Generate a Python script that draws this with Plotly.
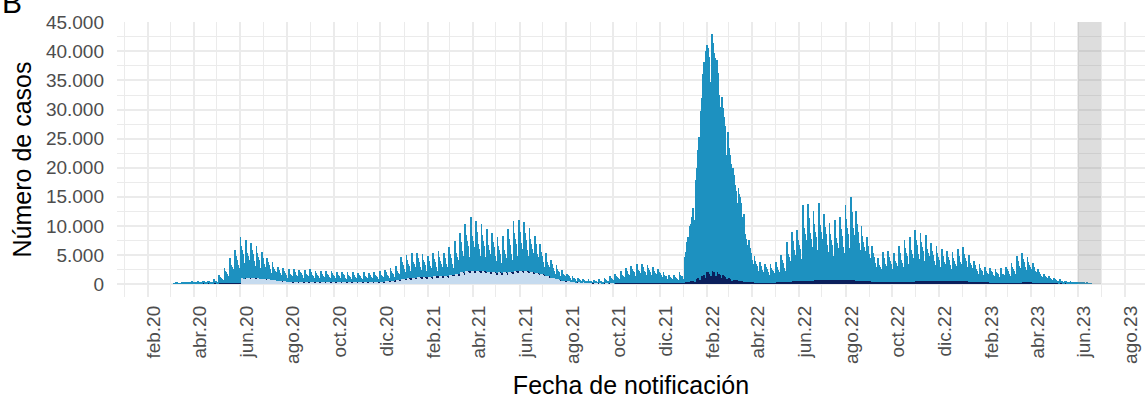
import pandas as pd
import plotly.graph_objects as go

# ---------------- DATOS (cientos de casos por día; cada fila = una semana, lunes a domingo) ----------------
inicio_serie = "2020-03-02"      # primer lunes de las series azul medio y azul marino
inicio_celeste = "2020-06-01"    # primer lunes de la serie celeste

azul_medio = [
    [0,0,0,0,1,0,0],[2,2,1,1,1,1,1],[2,1,1,1,1,0,0],[3,2,2,2,1,1,0],[4,3,3,2,2,1,1],
    [4,3,3,2,2,1,1],[5,4,3,3,2,2,1],[5,4,3,3,2,2,1],[7,6,5,4,3,3,2],[14,11,10,9,7,6,4],
    [27,22,19,17,15,12,9],[44,36,31,28,24,20,15],[57,47,41,36,31,26,20],[71,56,48,41,35,27,6],[65,51,43,37,31,23,5],
    [60,47,40,34,28,21,5],[55,43,37,31,26,19,4],[46,36,30,26,21,16,3],[37,29,24,20,17,12,3],[30,23,19,16,13,9,2],
    [24,18,15,13,10,7,1],[22,17,14,12,10,7,1],[22,17,14,12,10,7,2],[21,16,14,12,10,7,1],[20,17,14,12,10,7,2],
    [20,16,13,11,9,7,1],[21,16,13,11,10,7,1],[19,15,12,10,8,6,1],[19,15,13,10,8,6,1],[18,14,12,10,8,6,1],
    [18,15,12,10,8,6,1],[17,13,11,9,7,5,1],[17,14,11,9,7,5,1],[16,12,10,8,7,5,1],[16,12,11,8,7,5,1],
    [15,11,9,8,6,4,1],[16,12,10,8,7,5,1],[15,11,9,8,6,4,1],[16,12,10,8,7,5,1],[18,14,12,10,8,6,1],
    [19,15,12,10,8,6,1],[21,16,13,11,9,6,1],[24,18,15,12,10,7,1],[38,30,25,21,17,13,3],[40,31,25,21,17,12,2],
    [43,33,27,23,18,13,2],[42,32,26,22,17,12,2],[40,30,25,21,16,11,2],[37,28,23,19,15,9,1],[40,30,25,20,16,10,2],
    [42,32,26,21,16,11,2],[40,30,24,20,15,10,1],[47,35,29,24,18,12,2],[56,42,35,29,23,15,2],[68,52,43,36,28,19,3],
    [82,63,52,44,35,25,5],[93,72,60,51,41,29,6],[86,66,55,46,37,26,5],[81,62,52,43,35,24,5],[73,56,46,38,31,21,4],
    [68,52,43,36,28,19,3],[61,46,38,31,24,16,3],[62,47,38,32,25,17,3],[73,56,46,38,31,21,4],[86,66,55,46,38,27,5],
    [87,67,56,47,38,27,5],[84,65,54,45,36,26,5],[75,57,48,40,32,22,4],[64,49,40,33,27,18,3],[51,38,31,26,20,13,2],
    [39,29,24,19,15,9,1],[31,23,19,16,12,8,3],[24,18,15,12,9,6,3],[18,14,11,9,7,5,2],[13,10,8,6,5,3,1],
    [10,7,6,5,3,2,0],[8,6,5,4,3,2,0],[6,4,3,2,2,1,0],[6,4,3,3,2,1,0],[5,4,3,2,1,1,0],
    [7,5,4,4,3,2,1],[9,7,6,5,4,3,2],[12,9,8,7,6,4,3],[16,13,11,10,9,7,5],[21,17,15,13,11,9,7],
    [26,21,18,16,14,11,9],[30,24,21,19,16,13,10],[33,27,23,21,18,15,11],[34,28,24,21,19,15,12],[32,26,23,20,17,14,11],
    [29,24,21,18,16,13,10],[25,20,18,16,14,11,8],[19,15,13,12,10,8,6],[15,12,11,9,8,6,5],[14,11,10,9,7,6,4],
    [19,15,13,12,10,8,6],[43,52,62,69,77,57,42],[94,99,109,119,124,104,74],[150,170,190,220,240,200,140],[285,305,325,345,365,315,225],
    [380,390,385,375,370,330,230],[407,402,392,377,367,317,217],[365,342,327,307,288,250,173],[305,286,273,257,241,209,145],[250,234,224,211,198,172,120],
    [193,181,173,163,153,133,93],[160,150,144,135,127,111,78],[116,94,82,73,63,51,39],[72,59,51,45,39,32,24],[46,37,33,29,25,20,15],
    [36,29,25,22,19,15,12],[33,27,23,20,18,14,11],[32,26,22,20,17,14,10],[34,27,24,21,18,14,10],[47,38,33,29,25,20,15],
    [68,55,48,42,36,29,22],[85,69,60,53,45,36,27],[88,71,62,55,47,38,28],[129,105,91,80,70,56,43],[132,107,93,82,71,57,44],
    [118,96,83,73,63,51,38],[133,108,94,83,71,57,43],[113,91,79,70,60,48,36],[98,79,69,60,52,41,31],[103,83,72,63,55,44,33],
    [108,87,76,67,57,46,34],[128,104,90,79,69,55,42],[143,116,101,89,77,62,47],[119,97,84,74,64,52,39],[94,76,66,58,50,40,30],
    [75,61,53,46,40,32,24],[61,49,43,38,32,26,19],[42,34,29,26,22,18,13],[52,42,37,32,28,22,17],[53,43,37,32,27,22,16],
    [51,42,36,33,28,21,17],[61,49,43,38,32,26,19],[71,58,50,44,38,31,23],[76,62,54,47,41,33,25],[88,71,62,55,47,38,28],
    [83,67,58,51,44,35,27],[80,65,56,49,43,34,26],[65,52,45,40,34,27,20],[60,48,42,37,31,25,18],[55,44,38,33,29,23,17],
    [52,42,36,31,27,21,16],[50,40,35,30,26,20,15],[55,44,38,33,29,23,17],[58,47,40,35,30,24,18],[46,37,32,28,24,19,14],
    [36,29,25,22,18,14,10],[31,25,21,19,16,13,9],[27,22,19,16,14,11,8],[26,21,18,16,14,11,8],[24,19,17,15,13,10,7],
    [25,19,16,15,13,10,8],[28,23,20,17,15,12,9],[34,28,24,21,18,15,11],[46,37,33,29,25,20,15],[50,40,35,31,27,21,16],
    [43,35,30,26,23,18,14],[34,28,24,21,18,15,11],[23,19,16,14,12,10,7],[17,14,12,11,9,7,5],[12,10,8,7,6,5,4],
    [9,7,6,5,5,4,3],[7,6,5,4,3,3,2],[5,4,3,3,2,2,1],[4,3,3,2,2,1,1],[3,2,2,2,1,1,1],
    [3,2,2,2,2,1,1],[2,2,1,1,1,1,1],
]

azul_marino = [
    [0,0,0,0,0,0,0],[0,0,0,0,0,0,0],[1,1,1,1,1,1,1],[1,1,1,1,1,1,1],[1,1,1,1,1,1,1],
    [1,1,1,1,1,1,1],[1,1,1,1,1,1,1],[1,1,1,1,1,1,1],[1,1,1,1,1,1,1],[1,1,1,1,1,1,1],
    [1,1,1,1,1,1,1],[1,1,1,1,1,1,1],[1,1,1,1,1,1,1],[0,0,0,0,0,0,2],[0,0,0,0,0,0,2],
    [0,0,0,0,0,0,2],[0,0,0,0,0,0,2],[0,0,0,0,0,0,2],[0,0,0,0,0,0,2],[0,0,0,0,0,0,2],
    [0,0,0,0,0,0,2],[0,0,0,0,0,0,2],[0,0,0,0,0,0,2],[0,0,0,0,0,0,2],[0,0,0,0,0,0,2],
    [0,0,0,0,0,0,2],[0,0,0,0,0,0,2],[0,0,0,0,0,0,2],[0,0,0,0,0,0,2],[0,0,0,0,0,0,2],
    [0,0,0,0,0,0,2],[0,0,0,0,0,0,2],[0,0,0,0,0,0,2],[0,0,0,0,0,0,2],[0,0,0,0,0,0,2],
    [0,0,0,0,0,0,2],[0,0,0,0,0,0,2],[0,0,0,0,0,0,2],[0,0,0,0,0,0,2],[0,0,0,0,0,0,2],
    [0,0,0,0,0,0,2],[0,0,0,0,0,0,2],[0,0,0,0,0,0,2],[0,0,0,0,0,0,2],[0,0,0,0,0,1,3],
    [0,0,0,0,0,1,3],[0,0,0,0,0,1,3],[0,0,0,0,0,1,3],[0,0,0,0,0,1,3],[0,0,0,0,0,1,3],
    [0,0,0,0,0,1,3],[0,0,0,0,0,1,3],[0,0,0,0,0,1,3],[0,0,0,0,0,1,3],[0,0,0,0,0,1,3],
    [0,0,0,0,0,1,3],[0,0,0,0,0,1,3],[0,0,0,0,0,1,3],[0,0,0,0,0,1,3],[0,0,0,0,0,1,3],
    [0,0,0,0,0,1,3],[0,0,0,0,0,1,3],[0,0,0,0,0,1,3],[0,0,0,0,0,1,3],[0,0,0,0,0,1,3],
    [0,0,0,0,0,1,3],[0,0,0,0,0,1,3],[0,0,0,0,0,1,3],[0,0,0,0,0,1,3],[0,0,0,0,0,1,3],
    [0,0,0,0,0,1,3],[0,0,0,0,0,0,1],[0,0,0,0,0,0,1],[0,0,0,0,0,0,1],[0,0,0,0,0,0,1],
    [0,0,0,0,0,0,1],[0,0,0,0,0,0,1],[0,0,0,0,0,0,1],[0,0,0,0,0,0,1],[0,0,0,0,0,0,1],
    [0,0,0,0,0,0,1],[0,0,0,0,0,0,1],[0,0,0,0,0,0,1],[1,1,1,1,1,1,1],[1,1,1,1,1,1,1],
    [1,1,1,1,1,1,1],[1,1,1,1,1,1,1],[1,1,1,1,1,1,1],[1,1,1,1,1,1,1],[1,1,1,1,1,1,1],
    [1,1,1,1,1,1,1],[1,1,1,1,1,1,1],[1,1,1,1,1,1,1],[1,1,1,1,1,1,1],[1,1,1,1,1,1,1],
    [1,1,1,1,1,1,1],[3,3,3,3,3,3,3],[5,5,6,6,7,6,4],[8,9,10,11,12,10,7],[13,14,15,16,17,15,11],
    [20,21,21,20,20,18,13],[23,23,22,21,21,19,13],[21,20,19,18,17,15,11],[17,16,15,14,13,12,9],[12,11,10,10,9,8,6],
    [7,7,7,7,7,7,7],[5,5,5,5,5,5,5],[4,4,4,4,4,4,4],[3,3,3,3,3,3,3],[2,2,2,2,2,2,2],
    [2,2,2,2,2,2,2],[2,2,2,2,2,2,2],[2,2,2,2,2,2,2],[3,3,3,3,3,3,3],[3,3,3,3,3,3,3],
    [4,4,4,4,4,4,4],[5,5,5,5,5,5,5],[5,5,5,5,5,5,5],[6,6,6,6,6,6,6],[6,6,6,6,6,6,6],
    [7,7,7,7,7,7,7],[7,7,7,7,7,7,7],[7,7,7,7,7,7,7],[7,7,7,7,7,7,7],[7,7,7,7,7,7,7],
    [7,7,7,7,7,7,7],[7,7,7,7,7,7,7],[7,7,7,7,7,7,7],[6,6,6,6,6,6,6],[6,6,6,6,6,6,6],
    [5,5,5,5,5,5,5],[4,4,4,4,4,4,4],[3,3,3,3,3,3,3],[3,3,3,3,3,3,3],[3,3,3,3,3,3,3],
    [3,3,3,3,3,3,3],[4,4,4,4,4,4,4],[4,4,4,4,4,4,4],[4,4,4,4,4,4,4],[5,5,5,5,5,5,5],
    [5,5,5,5,5,5,5],[5,5,5,5,5,5,5],[5,5,5,5,5,5,5],[5,5,5,5,5,5,5],[5,5,5,5,5,5,5],
    [5,5,5,5,5,5,5],[5,5,5,5,5,5,5],[5,5,5,5,5,5,5],[5,5,5,5,5,5,5],[4,4,4,4,4,4,4],
    [4,4,4,4,4,4,4],[3,3,3,3,3,3,3],[3,3,3,3,3,3,3],[2,2,2,2,2,2,2],[2,2,2,2,2,2,2],
    [2,2,2,2,2,2,2],[2,2,2,2,2,2,2],[2,2,2,2,2,2,2],[2,2,2,2,2,2,2],[3,3,3,3,3,3,3],
    [3,3,3,3,3,3,3],[2,2,2,2,2,2,2],[2,2,2,2,2,2,2],[1,1,1,1,1,1,1],[1,1,1,1,1,1,1],
    [1,1,1,1,1,1,1],[1,1,1,1,1,1,1],[1,1,1,1,1,1,1],[1,1,1,1,1,1,1],[1,1,1,1,1,1,1],
    [0,0,0,0,0,0,0],[0,0,0,0,0,0,0],
]

celeste = [
    [10,10,11,10,10,9,9],[11,11,11,11,10,10,10],[11,11,12,11,11,10,10],[10,10,10,10,10,9,9],[9,9,9,9,9,8,8],
    [8,8,8,8,8,7,7],[7,7,7,7,7,6,6],[6,6,6,6,6,5,5],[5,5,5,5,5,4,4],[4,4,4,4,4,4,3],
    [4,4,4,4,4,4,3],[4,4,5,4,4,4,3],[4,4,4,4,4,4,3],[4,4,4,4,4,4,3],[4,4,4,4,4,4,3],
    [4,4,4,4,4,4,3],[4,4,4,4,4,4,3],[4,4,4,4,4,4,3],[4,4,4,4,4,4,3],[4,4,4,4,4,4,3],
    [4,4,4,4,4,4,3],[4,4,4,4,4,4,3],[4,4,4,4,4,4,3],[4,4,4,4,4,4,3],[4,4,4,4,4,4,3],
    [4,4,4,4,4,4,3],[4,4,4,4,4,4,3],[5,5,5,5,5,5,4],[6,6,6,6,6,6,5],[7,7,7,7,7,7,6],
    [8,8,8,8,8,8,7],[10,10,10,10,10,9,8],[11,11,11,11,11,10,9],[12,12,12,12,12,11,10],[12,12,12,12,12,11,10],
    [12,12,12,12,12,11,10],[13,13,13,13,13,12,11],[14,14,14,14,14,13,12],[14,14,14,14,14,13,12],[16,16,16,16,16,15,14],
    [18,18,18,18,18,17,15],[20,20,20,20,20,19,17],[22,22,22,22,22,21,19],[23,23,23,23,23,22,20],[23,23,23,23,23,22,20],
    [22,22,22,22,22,21,19],[21,21,21,21,21,20,18],[20,20,20,20,20,19,17],[20,20,20,20,20,19,17],[20,20,20,20,20,19,17],
    [21,21,21,21,21,20,18],[22,22,22,22,22,21,19],[23,23,23,23,23,22,20],[22,22,22,22,22,21,19],[21,21,21,21,21,20,18],
    [19,19,19,19,19,18,16],[17,17,17,17,17,16,14],[14,14,14,14,14,13,12],[11,11,11,11,11,10,9],[8,8,8,8,8,7,6],
    [6,6,6,6,6,5,5],[5,5,5,5,5,4,4],[4,4,4,4,4,3,3],[3,3,3,3,3,3,2],[3,3,3,3,3,3,2],
    [2,2,2,2,2,2,1],[2,2,2,2,2,2,1],[1,1,1,1,1,1,1],[1,1,1,1,1,1,1],[1,1,1,1,1,1,0],
]

etiquetas_x = ["feb.20", "abr.20", "jun.20", "ago.20", "oct.20", "dic.20",
               "feb.21", "abr.21", "jun.21", "ago.21", "oct.21", "dic.21",
               "feb.22", "abr.22", "jun.22", "ago.22", "oct.22", "dic.22",
               "feb.23", "abr.23", "jun.23", "ago.23"]
valores_y = [0, 5000, 10000, 15000, 20000, 25000, 30000, 35000, 40000, 45000]
etiquetas_y = ["0", "5.000", "10.000", "15.000", "20.000", "25.000",
               "30.000", "35.000", "40.000", "45.000"]
periodo_sombreado = ("2023-06-01", "2023-07-01")

# ---------------- CONSTRUCCIÓN ----------------
def a_casos(filas):
    return [v * 100 for fila in filas for v in fila]

medio = a_casos(azul_medio)
marino = a_casos(azul_marino)
cel = a_casos(celeste)
fechas = pd.date_range(inicio_serie, periods=len(medio), freq="D")
fechas_cel = pd.date_range(inicio_celeste, periods=len(cel), freq="D")

ticks_x = pd.date_range("2020-02-01", periods=len(etiquetas_x), freq="2MS")
ticks_menores_x = pd.date_range("2020-01-01", periods=len(etiquetas_x) + 1, freq="2MS")
ticks_menores_y = [v + 2500 for v in valores_y[:-1]]

fig = go.Figure()
fig.add_bar(x=fechas_cel, y=cel, marker=dict(color="#C6DBEF", line=dict(width=0)), name="c")
fig.add_bar(x=fechas, y=marino, marker=dict(color="#0B1F5C", line=dict(width=0)), name="m")
fig.add_bar(x=fechas, y=medio, marker=dict(color="#1D91C0", line=dict(width=0)), name="a")

fig.add_shape(type="rect", xref="x", yref="paper",
              x0=periodo_sombreado[0], x1=periodo_sombreado[1], y0=0.0473, y1=1,
              fillcolor="rgba(128,128,128,0.27)", line=dict(width=0), layer="above")

grid = "#EBEBEB"
fig.update_layout(
    width=1145, height=400,
    margin=dict(l=117, r=0, t=22, b=103, autoexpand=False),
    paper_bgcolor="white", plot_bgcolor="white",
    barmode="stack", bargap=0, showlegend=False,
    font=dict(family="Liberation Sans, Arial, sans-serif"),
    xaxis=dict(
        type="date", range=["2019-12-22 14:00", "2023-08-27 12:00"],
        tickmode="array", tickvals=ticks_x, ticktext=etiquetas_x,
        tickangle=-90, ticks="", ticklabelshift=6, ticklabelstandoff=4,
        tickfont=dict(size=19, color="#4D4D4D"),
        showgrid=True, gridcolor=grid, gridwidth=1.6, zeroline=False, showline=False,
        minor=dict(tickmode="array", tickvals=ticks_menores_x, showgrid=True,
                   gridcolor=grid, gridwidth=0.8, ticks=""),
        title=dict(text="Fecha de notificación", font=dict(size=25, color="black"), standoff=13),
        automargin=False,
    ),
    yaxis=dict(
        range=[-2235, 45052],
        tickmode="array", tickvals=valores_y, ticktext=etiquetas_y,
        ticks="", ticklabelstandoff=12,
        tickfont=dict(size=19, color="#4D4D4D"),
        showgrid=True, gridcolor=grid, gridwidth=1.6, zeroline=False, showline=False,
        minor=dict(tickmode="array", tickvals=ticks_menores_y, showgrid=True,
                   gridcolor=grid, gridwidth=0.8, ticks=""),
        title=dict(text="Número de casos", font=dict(size=25, color="black"), standoff=7),
        automargin=False,
    ),
    annotations=[dict(text="B", xref="paper", yref="paper", x=-117 / 1028, y=1.005,
                      xanchor="left", yanchor="bottom", showarrow=False,
                      font=dict(size=30, color="black"))],
)

fig.write_html("out.html", config={"displayModeBar": False},
               post_script="document.body.style.margin='0';")
